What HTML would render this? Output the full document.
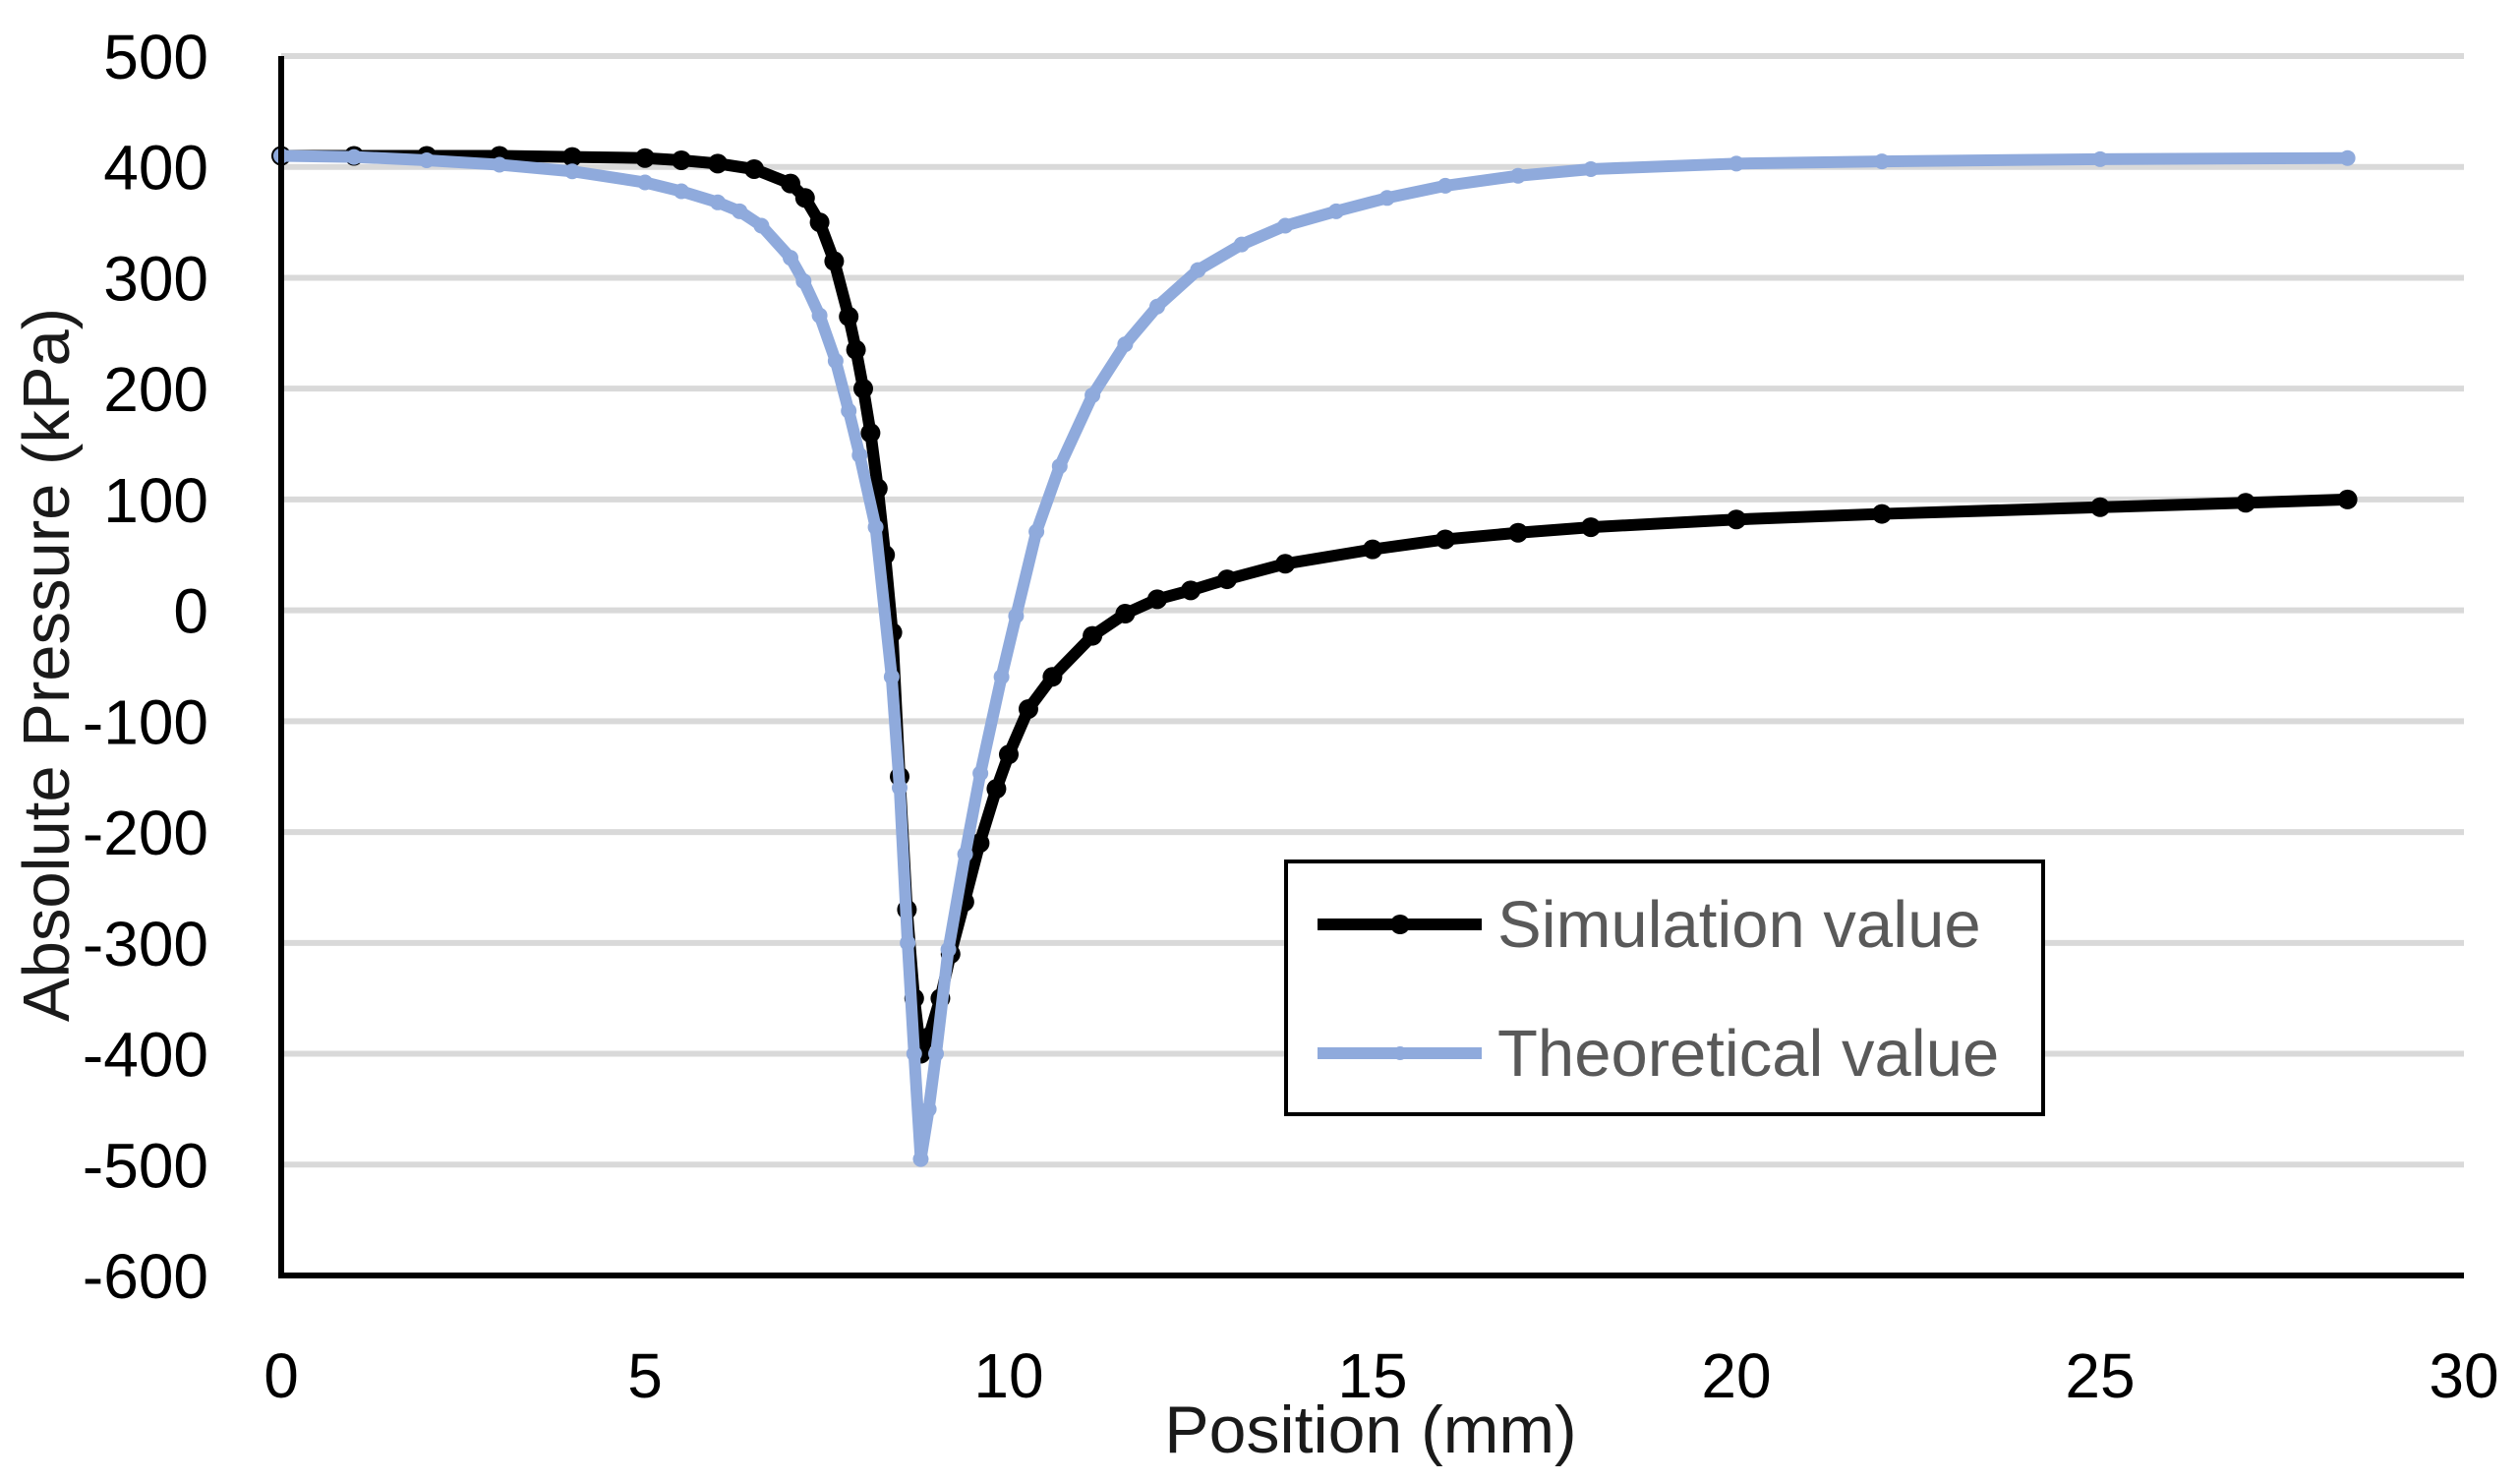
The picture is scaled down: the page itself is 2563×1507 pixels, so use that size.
<!DOCTYPE html>
<html><head><meta charset="utf-8"><style>
html,body{margin:0;padding:0;background:#fff;}
svg{display:block;font-family:"Liberation Sans",sans-serif;}
</style></head><body>
<svg id="chart" width="2563" height="1507" viewBox="0 0 2563 1507" xmlns="http://www.w3.org/2000/svg">
<g id="grid"></g>
<g id="yticks"></g>
<g id="xticks"></g>
<g id="series"></g>
<line x1="286" y1="57" x2="286" y2="1300" stroke="#000" stroke-width="6"/>
<line x1="283" y1="1297" x2="2506" y2="1297" stroke="#000" stroke-width="6"/>
<text transform="translate(70,676) rotate(-90)" text-anchor="middle" font-size="67" fill="#1a1a1a">Absolute Pressure (kPa)</text>
<text x="1394" y="1477" text-anchor="middle" font-size="68" fill="#1a1a1a">Position (mm)</text>
<g>
<rect x="1308" y="876" width="770" height="257" fill="#fff" stroke="#000" stroke-width="4"/>
<g>
<line x1="1340" y1="940" x2="1507" y2="940" stroke="#000" stroke-width="12"/>
<circle cx="1424" cy="940" r="10" fill="#000"/>
<text x="1523" y="963" font-size="67" fill="#595959">Simulation value</text></g>
<g>
<line x1="1340" y1="1071" x2="1507" y2="1071" stroke="#8faadc" stroke-width="12"/>
<circle cx="1424" cy="1071" r="7" fill="#8faadc"/>
<text x="1523" y="1094" font-size="67" fill="#595959">Theoretical value</text></g>
</g>
</svg>
<script>
const yTicks=[500,400,300,200,100,0,-100,-200,-300,-400,-500,-600];
const xTicks=[0,5,10,15,20,25,30];
const simX=[0,1,2,3,4,5,5.5,6,6.5,7,7.2,7.4,7.6,7.8,7.9,8.0,8.1,8.2,8.3,8.4,8.5,8.6,8.7,8.79,8.9,9.06,9.2,9.39,9.6,9.83,10.0,10.27,10.6,11.15,11.6,12.04,12.5,13,13.8,15,16,17,18,20,22,25,27,28.4];
const simY=[410,410,410,410,409,408,406,403,398,385,372,350,315,265,235,200,160,110,50,-20,-150,-270,-350,-400,-385,-350,-310,-263,-210,-161,-130,-89,-60,-23,-3,10,18,28,42,55,64,70,75,82,87,93,97,100];
const theX=[0,1,2,3,4,5,5.5,6,6.3,6.6,7,7.18,7.4,7.62,7.8,7.95,8.17,8.39,8.5,8.61,8.7,8.79,8.9,9.0,9.17,9.4,9.61,9.9,10.1,10.38,10.7,11.15,11.6,12.04,12.6,13.2,13.8,14.5,15.2,16,17,18,20,22,25,28.4];
const theY=[410,409,406,402,396,386,378,368,360,347,318,297,266,225,180,140,75,-60,-160,-300,-400,-495,-450,-400,-306,-220,-147,-60,-5,71,130,194,240,274,307,330,347,360,372,383,392,398,403,405,407,408];
const X0=286,X1=2506,Y500=57,Y600=1297;
function sx(v){return X0+(v-0)*(X1-X0)/30;}
function sy(v){return Y500+(500-v)*(Y600-Y500)/1100;}
const NS='http://www.w3.org/2000/svg';
function mk(tag,parent){const e=document.createElementNS(NS,tag);document.getElementById(parent).appendChild(e);return e;}
yTicks.forEach(t=>{
  if(t>-600){const l=mk('line','grid');
  
  
  l.setAttribute('x1',X0);l.setAttribute('x2',X1);l.setAttribute('y1',sy(t));l.setAttribute('y2',sy(t));
  l.setAttribute('stroke','#d9d9d9');l.setAttribute('stroke-width','6');}
  const tx=mk('text','yticks');
  
  
  tx.setAttribute('x',212);tx.setAttribute('y',sy(t)+23);tx.setAttribute('text-anchor','end');tx.setAttribute('font-size','64');tx.textContent=t;
});
xTicks.forEach(t=>{
  const tx=mk('text','xticks');
  
  
  tx.setAttribute('x',sx(t));tx.setAttribute('y',1421);tx.setAttribute('text-anchor','middle');tx.setAttribute('font-size','64');tx.textContent=t;
});
function series(xs,ys,color,r,name){
  const p=mk('polyline','series');
  
  
  p.setAttribute('points',xs.map((x,i)=>sx(x)+','+sy(ys[i])).join(' '));
  p.setAttribute('fill','none');p.setAttribute('stroke',color);p.setAttribute('stroke-width','12');p.setAttribute('stroke-linejoin','round');
  xs.forEach((x,i)=>{const c=mk('circle','series');
    
    
    c.setAttribute('cx',sx(x));c.setAttribute('cy',sy(ys[i]));c.setAttribute('r',r);c.setAttribute('fill',color);});
}
series(simX,simY,'#000',10,'simulation');
series(theX,theY,'#8faadc',8,'theoretical');
</script>
</body></html>
